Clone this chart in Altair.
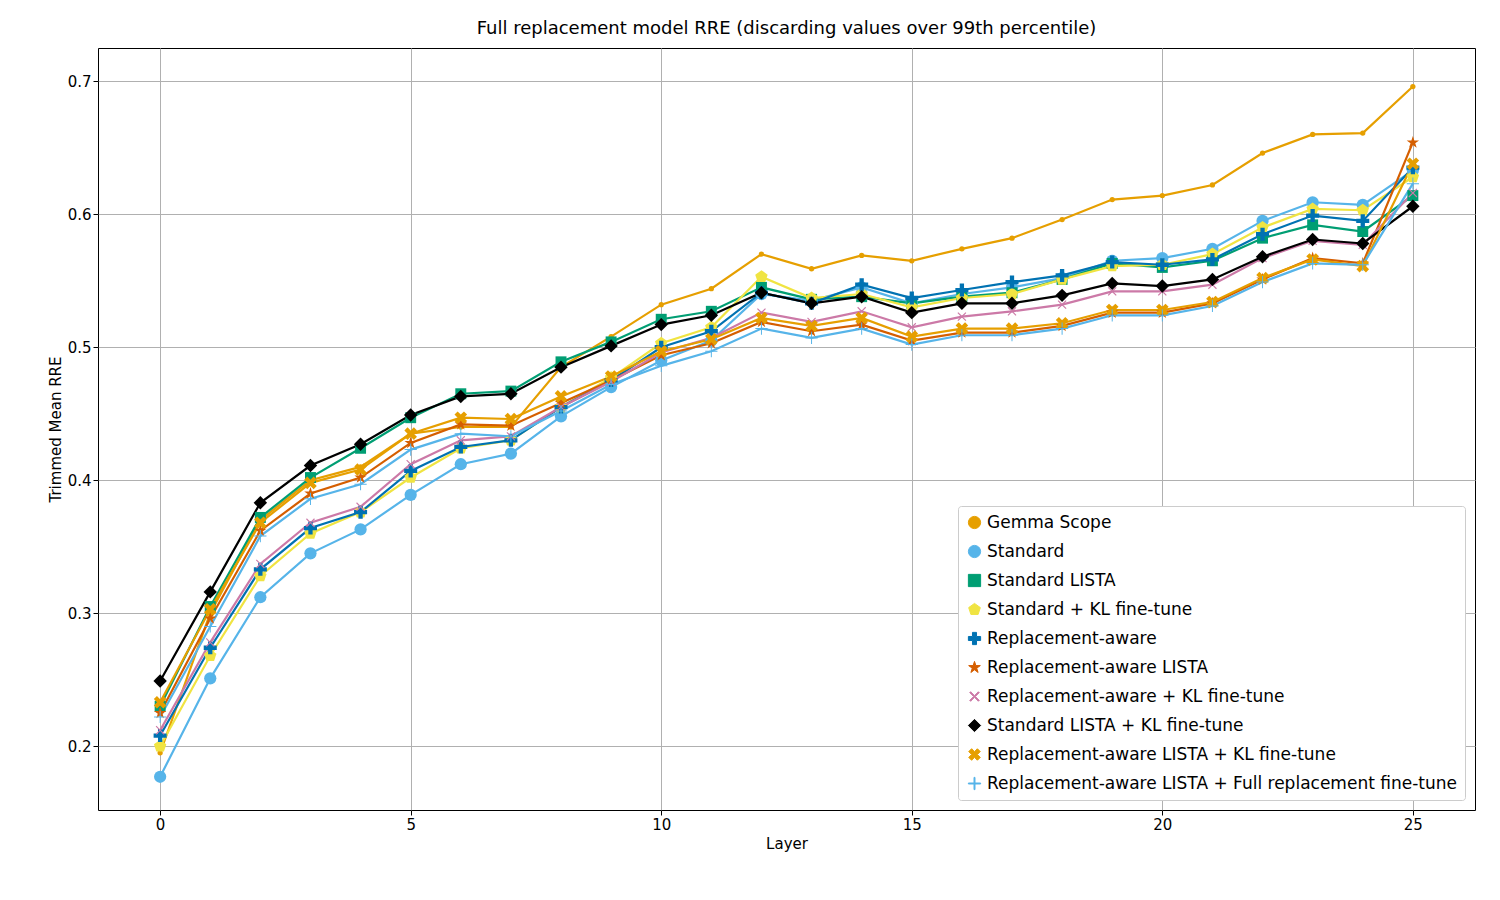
import math
import pandas as pd
import altair as alt

layers = list(range(26))

series_names = [
    "Gemma Scope",
    "Standard",
    "Standard LISTA",
    "Standard + KL fine-tune",
    "Replacement-aware",
    "Replacement-aware LISTA",
    "Replacement-aware + KL fine-tune",
    "Standard LISTA + KL fine-tune",
    "Replacement-aware LISTA + KL fine-tune",
    "Replacement-aware LISTA + Full replacement fine-tune",
]

gemma_scope = [0.195, 0.300, 0.370, 0.400, 0.410, 0.435, 0.440, 0.440, 0.485, 0.508, 0.532, 0.544, 0.570,
               0.559, 0.569, 0.565, 0.574, 0.582, 0.596, 0.611, 0.614, 0.622, 0.646, 0.660, 0.661, 0.696]
standard = [0.177, 0.251, 0.312, 0.345, 0.363, 0.389, 0.412, 0.420, 0.448, 0.470, 0.490, 0.505, 0.540,
            0.535, 0.545, 0.533, 0.540, 0.545, 0.552, 0.565, 0.567, 0.574, 0.595, 0.609, 0.607, 0.633]
standard_lista = [0.230, 0.305, 0.372, 0.402, 0.424, 0.447, 0.465, 0.467, 0.489, 0.504, 0.521, 0.527, 0.545,
                  0.536, 0.538, 0.533, 0.538, 0.541, 0.551, 0.563, 0.560, 0.565, 0.582, 0.592, 0.587, 0.614]
standard_kl = [0.200, 0.268, 0.328, 0.360, 0.376, 0.402, 0.424, 0.430, 0.455, 0.477, 0.503, 0.515, 0.553,
               0.537, 0.540, 0.530, 0.537, 0.540, 0.551, 0.561, 0.562, 0.570, 0.590, 0.604, 0.603, 0.628]
repl_aware = [0.208, 0.274, 0.333, 0.364, 0.376, 0.407, 0.425, 0.430, 0.455, 0.475, 0.500, 0.512, 0.541,
              0.533, 0.547, 0.537, 0.543, 0.549, 0.554, 0.564, 0.562, 0.566, 0.585, 0.599, 0.595, 0.635]
repl_lista = [0.225, 0.296, 0.362, 0.390, 0.402, 0.428, 0.442, 0.441, 0.458, 0.475, 0.494, 0.503, 0.519,
              0.512, 0.517, 0.505, 0.511, 0.511, 0.516, 0.526, 0.526, 0.533, 0.551, 0.567, 0.563, 0.654]
repl_kl = [0.212, 0.278, 0.337, 0.368, 0.380, 0.412, 0.430, 0.433, 0.455, 0.474, 0.496, 0.507, 0.526,
           0.519, 0.527, 0.515, 0.523, 0.527, 0.532, 0.542, 0.542, 0.547, 0.567, 0.580, 0.577, 0.616]
std_lista_kl = [0.249, 0.316, 0.383, 0.411, 0.427, 0.449, 0.463, 0.465, 0.485, 0.501, 0.517, 0.524, 0.541,
                0.533, 0.538, 0.526, 0.533, 0.533, 0.539, 0.548, 0.546, 0.551, 0.568, 0.581, 0.578, 0.606]
repl_lista_kl = [0.233, 0.303, 0.368, 0.398, 0.408, 0.435, 0.447, 0.446, 0.463, 0.478, 0.497, 0.506, 0.522,
                 0.516, 0.522, 0.508, 0.514, 0.514, 0.518, 0.528, 0.528, 0.534, 0.552, 0.566, 0.561, 0.638]
repl_lista_full = [0.222, 0.290, 0.358, 0.386, 0.397, 0.423, 0.435, 0.433, 0.452, 0.472, 0.486, 0.497, 0.514,
                   0.507, 0.514, 0.502, 0.509, 0.509, 0.514, 0.524, 0.524, 0.531, 0.549, 0.563, 0.562, 0.623]

all_values = [gemma_scope, standard, standard_lista, standard_kl, repl_aware, repl_lista,
              repl_kl, std_lista_kl, repl_lista_kl, repl_lista_full]

colors = ["#E69F00", "#56B4E9", "#009E73", "#F0E442", "#0072B2", "#D55E00",
          "#CC79A7", "#000000", "#E69F00", "#56B4E9"]


# marker shapes as svg paths
def plus_path(w, angle=0):
    pts = [(-w, -1), (w, -1), (w, -w), (1, -w), (1, w), (w, w), (w, 1), (-w, 1),
           (-w, w), (-1, w), (-1, -w), (-w, -w)]
    a = math.radians(angle)
    out = []
    for x, y in pts:
        rx = x * math.cos(a) - y * math.sin(a)
        ry = x * math.sin(a) + y * math.cos(a)
        out.append(f"{rx:.3f},{ry:.3f}")
    return "M" + "L".join(out) + "Z"


star = "M0,-1L0.2245,-0.309L0.951,-0.309L0.363,0.118L0.588,0.809L0,0.382L-0.588,0.809L-0.363,0.118L-0.951,-0.309L-0.2245,-0.309Z"
pentagon = "M0,-1L0.951,-0.309L0.588,0.809L-0.588,0.809L-0.951,-0.309Z"
shapes = ["circle", "circle", "square", pentagon, plus_path(0.33), star,
          plus_path(0.1, 45), "diamond", plus_path(0.33, 45), plus_path(0.08)]
sizes = [28, 150, 120, 170, 170, 170, 130, 180, 180, 150]

rows = []
for name, vals, sz in zip(series_names, all_values, sizes):
    for layer, v in zip(layers, vals):
        rows.append({"Layer": layer, "RRE": v, "Series": name, "size": sz})
df = pd.DataFrame(rows)

color_scale = alt.Scale(domain=series_names, range=colors)
shape_scale = alt.Scale(domain=series_names, range=shapes)

x = alt.X("Layer:Q", scale=alt.Scale(domain=[-1.24, 26.24], nice=False),
          axis=alt.Axis(values=[0, 5, 10, 15, 20, 25], title="Layer"))
y = alt.Y("RRE:Q", scale=alt.Scale(domain=[0.152, 0.725], nice=False, zero=False),
          axis=alt.Axis(values=[0.2, 0.3, 0.4, 0.5, 0.6, 0.7], format=".1f", title="Trimmed Mean RRE"))

lines = alt.Chart(df).mark_line(strokeWidth=2.2).encode(
    x=x, y=y,
    color=alt.Color("Series:N", scale=color_scale, sort=series_names, title=None),
    detail="Series:N",
)

points = alt.Chart(df).mark_point(filled=True, opacity=1).encode(
    x=x, y=y,
    color=alt.Color("Series:N", scale=color_scale, sort=series_names, title=None),
    shape=alt.Shape("Series:N", scale=shape_scale, sort=series_names, title=None),
    size=alt.Size("size:Q", scale=None, legend=None),
)

chart = alt.layer(lines, points).properties(
    width=1377, height=762,
    padding={"left": 40, "top": 12, "right": 5, "bottom": 5},
    title=alt.TitleParams("Full replacement model RRE (discarding values over 99th percentile)",
                          fontSize=18, fontWeight="normal", offset=10),
).configure(font="DejaVu Sans").configure_view(
    stroke="black", strokeWidth=1
).configure_axis(
    grid=True, gridColor="#b0b0b0", gridWidth=1, domain=False,
    labelFontSize=15, titleFontSize=15, titleFontWeight="normal",
    tickColor="black", tickSize=5, labelColor="black", titleColor="black",
).configure_legend(
    orient="bottom-right", offset=10, fillColor="white", strokeColor="#cccccc",
    padding=8, cornerRadius=3, labelFontSize=17, symbolSize=150, rowPadding=11,
    symbolStrokeWidth=1, labelLimit=700,
)

chart.save("out.html", embed_options={"renderer": "svg", "actions": False})
